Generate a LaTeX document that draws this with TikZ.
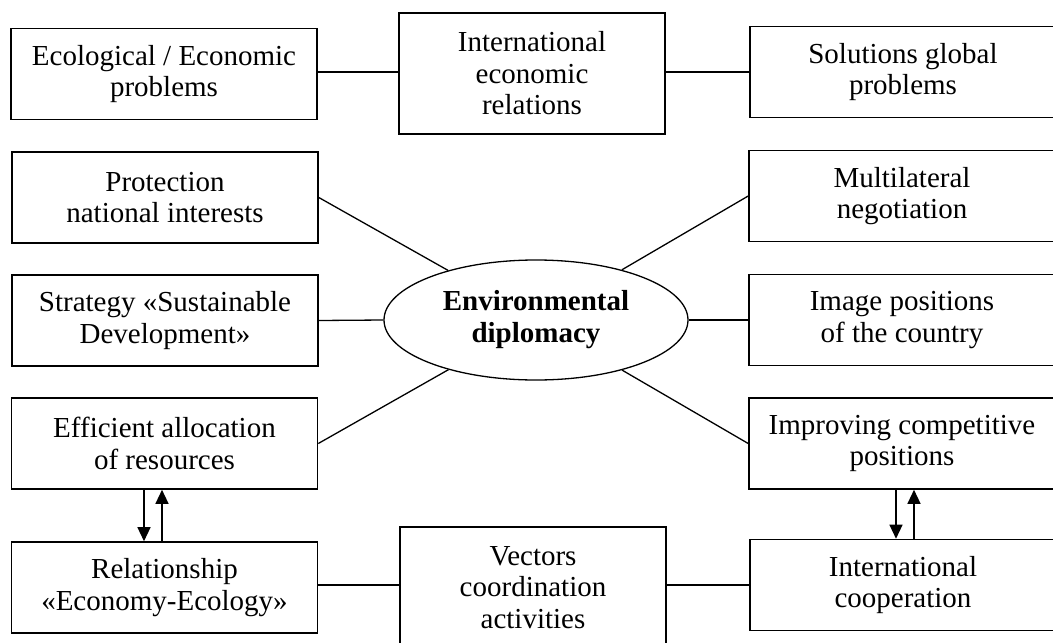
\documentclass[tikz,border=0pt]{standalone}
\usepackage{fontspec}
\setmainfont{Liberation Serif}
\usetikzlibrary{arrows.meta,shapes.geometric}
\tikzset{
  box/.style={draw,line width=1.6pt,minimum width=306pt,minimum height=91pt,align=center,inner sep=0pt,
    font=\fontsize{29}{31.5}\selectfont},
  tallbox/.style={box,minimum width=266pt,minimum height=121pt},
  conn/.style={line width=1.3pt},
  arr/.style={line width=1.3pt,-{Triangle[length=14pt,width=13pt]}}
}
\begin{document}
\begin{tikzpicture}[x=1pt,y=-1pt]
\useasboundingbox (0,0) rectangle (1053,643);
\node[box] (eco) at (164,74) {Ecological / Economic\\problems};
\node[tallbox] (intl) at (532,73.5) {International\\economic\\relations};
\node[box] (sol) at (903,72) {Solutions global\\problems};
\node[box] (prot) at (165,197.5) {Protection\\national interests};
\node[box] (multi) at (902,196) {Multilateral\\negotiation};
\node[box] (strat) at (165,320.5) {Strategy «Sustainable\\Development»};
\node[box] (image) at (902,320) {Image positions\\of the country};
\node[box] (eff) at (164.5,443.5) {Efficient allocation\\of resources};
\node[box] (impr) at (902,443.5) {Improving competitive\\positions};
\node[box] (rel) at (164.5,587.5) {Relationship\\«Economy-Ecology»};
\node[tallbox] (vec) at (533,587.5) {Vectors\\coordination\\activities};
\node[box] (coop) at (903,585) {International\\cooperation};
\node[draw,ellipse,line width=1.3pt,minimum width=304pt,minimum height=120pt,inner sep=0pt,align=center,
  font=\fontsize{29}{32}\selectfont\bfseries] (ell) at (536,320) {Environmental\\diplomacy};
% horizontal connectors
\draw[conn] (eco.east |- 0,72) -- (intl.west |- 0,72);
\draw[conn] (intl.east |- 0,72) -- (sol.west |- 0,72);
\draw[conn] (rel.east |- 0,585) -- (vec.west |- 0,585);
\draw[conn] (vec.east |- 0,585) -- (coop.west |- 0,585);
% spokes
\draw[conn] (prot.east) -- (ell);
\draw[conn] (multi.west) -- (ell);
\draw[conn] (eff.east) -- (ell);
\draw[conn] (impr.west) -- (ell);
\draw[conn] (strat.east) -- (ell.west);
\draw[conn] (ell.east) -- (image.west);
% arrows
\draw[arr] ([xshift=-20.5pt]eff.south) -- ([xshift=-20.5pt]eff.south |- rel.north);
\draw[arr] ([xshift=-2.5pt]rel.north) -- ([xshift=-2.5pt]rel.north |- eff.south);
\draw[arr] ([xshift=-6pt]impr.south) -- ([xshift=-6pt]impr.south |- coop.north);
\draw[arr] ([xshift=12pt]impr.south |- coop.north) -- ([xshift=12pt]impr.south);
\end{tikzpicture}
\end{document}
